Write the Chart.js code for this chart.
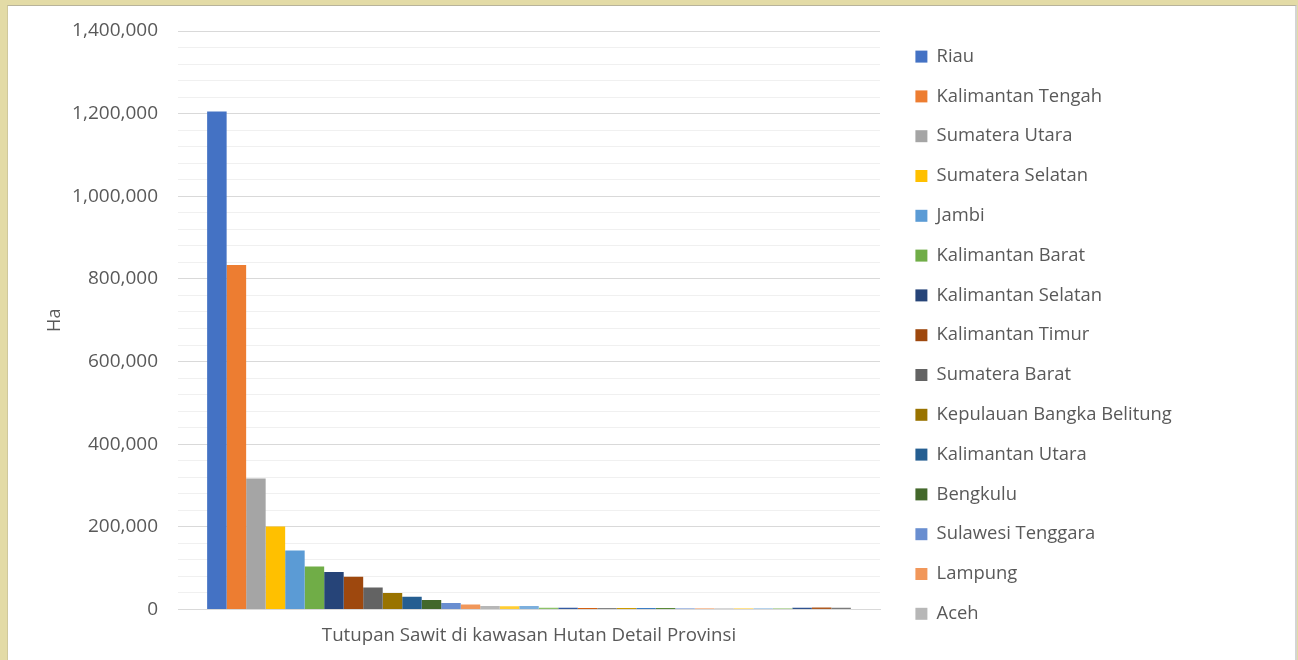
<!DOCTYPE html>
<html>
<head>
<meta charset="utf-8">
<script src="https://cdn.jsdelivr.net/npm/chart.js@4.4.0/dist/chart.umd.min.js"></script>
<style>
  html, body { margin: 0; padding: 0; }
  body { width: 1298px; height: 660px; background: #e3dba6; position: relative; overflow: hidden; }
  #frame { position: absolute; left: 7px; top: 5px; width: 1287px; height: 655px; background: #fff;
           border-top: 1px solid #b8b39a; border-left: 1px solid #cfc89c; border-right: 2px solid #d4d4d4; }
  canvas { position: absolute; left: 0; top: 0; }
</style>
</head>
<body>
<div id="frame"><canvas id="myChart" width="1287" height="654"></canvas></div>
<script>
var category = ['Tutupan Sawit di kawasan Hutan Detail Provinsi'];

var provinces = [
  'Riau', 'Kalimantan Tengah', 'Sumatera Utara', 'Sumatera Selatan', 'Jambi',
  'Kalimantan Barat', 'Kalimantan Selatan', 'Kalimantan Timur', 'Sumatera Barat',
  'Kepulauan Bangka Belitung', 'Kalimantan Utara', 'Bengkulu', 'Sulawesi Tenggara',
  'Lampung', 'Aceh', 'Sulawesi Tengah', 'Sulawesi Barat', 'Kepulauan Riau', 'Papua',
  'Papua Barat', 'Sulawesi Selatan', 'Gorontalo', 'Jawa Barat', 'Banten',
  'Sulawesi Utara', 'Maluku Utara', 'Maluku', 'Jawa Tengah', 'Jawa Timur',
  'Nusa Tenggara Barat', 'Nusa Tenggara Timur', 'DI Yogyakarta', 'Bali'
];

var areaHa = [
  1205000, 834000, 317000, 201000, 143000,
  104000, 91000, 79000, 53000,
  40000, 31000, 23000, 16000,
  12000, 8500, 8000, 8500, 4500, 4000,
  3800, 3700, 3600, 3500, 3400,
  3300, 3200, 3100, 3000, 3000,
  2900, 4500, 4600, 4400
];

var yTicks = [0, 200000, 400000, 600000, 800000, 1000000, 1200000, 1400000];

var colors = [
  '#4472C4', '#ED7D31', '#A5A5A5', '#FFC000', '#5B9BD5', '#70AD47',
  '#264478', '#9E480E', '#636363', '#997300', '#255E91', '#43682B',
  '#698ED0', '#F1975A', '#B7B7B7', '#FFCD33', '#7CAFDD', '#8CC168',
  '#335AA1', '#D26012', '#848484', '#CC9A00', '#3C7DC4', '#5A8A39',
  '#8FAADC', '#F4B183', '#C9C9C9', '#FFD966', '#9DC3E6', '#A9D18E',
  '#2F528F', '#AE5A21', '#7B7B7B'
];

var datasets = [];
for (let i = 0; i < provinces.length; i++){
  datasets.push({
    label: provinces[i],
    data: [areaHa[i]],
    backgroundColor: colors[i],
    borderWidth: 0,
    categoryPercentage: 0.917,
    barPercentage: 1
  });
}

const textColor = '#595959';
const fontFam = '"Open Sans", Lato, sans-serif';

// the legend box gets a fixed width, otherwise chart.js caps it
const legendWidth = {
  id: 'legendWidth',
  beforeUpdate(chart) {
    const lg = chart.legend;
    if (lg && !lg._fixedWidth) {
      const fit = lg.fit;
      lg.fit = function () { fit.call(this); this.width = 401; };
      lg._fixedWidth = true;
    }
  }
};

const ctx = document.getElementById('myChart');

new Chart(ctx, {
  type: 'bar',
  data: {
    labels: category,
    datasets: datasets
  },
  plugins: [legendWidth],
  options: {
    responsive: false,
    animation: false,
    layout: { padding: { top: 20, right: 0, bottom: 0, left: 0 } },
    plugins: {
      tooltip: { enabled: false },
      legend: {
        position: 'right',
        align: 'start',
        labels: {
          boxWidth: 12,
          boxHeight: 12,
          padding: 21.4,
          color: textColor,
          font: { family: fontFam, size: 18.4 },
          filter: (item) => item.datasetIndex < 15
        }
      }
    },
    scales: {
      x: {
        grid: { display: false, drawTicks: false },
        border: { color: '#d9d9d9' },
        ticks: { color: textColor, padding: 15, font: { family: fontFam, size: 18.7 } },
        afterFit: (scale) => { scale.height = 50.5; }
      },
      y: {
        min: 0,
        max: 1400000,
        border: { display: false },
        grid: {
          drawTicks: false,
          color: (c) => (c.tick && c.tick.value % 200000 === 0) ? '#d9d9d9' : '#f0f0f0'
        },
        ticks: {
          stepSize: 40000,
          autoSkip: false,
          padding: 20,
          color: textColor,
          font: { family: fontFam, size: 19 },
          callback: (v) => yTicks.includes(v) ? v.toLocaleString('en-US') : ''
        },
        title: {
          display: true,
          text: 'Ha',
          color: textColor,
          font: { family: fontFam, size: 18 },
          padding: { top: 36, bottom: 0 }
        },
        afterFit: (scale) => { scale.width = 170; scale.paddingTop = 25; scale.paddingBottom = 0; }
      },
      gap: {
        type: 'linear',
        position: 'right',
        display: true,
        grid: { display: false, drawTicks: false },
        border: { display: false },
        ticks: { display: false },
        afterFit: (scale) => { scale.width = 14; scale.paddingTop = 0; scale.paddingBottom = 0; }
      }
    }
  }
});
</script>
</body>
</html>
